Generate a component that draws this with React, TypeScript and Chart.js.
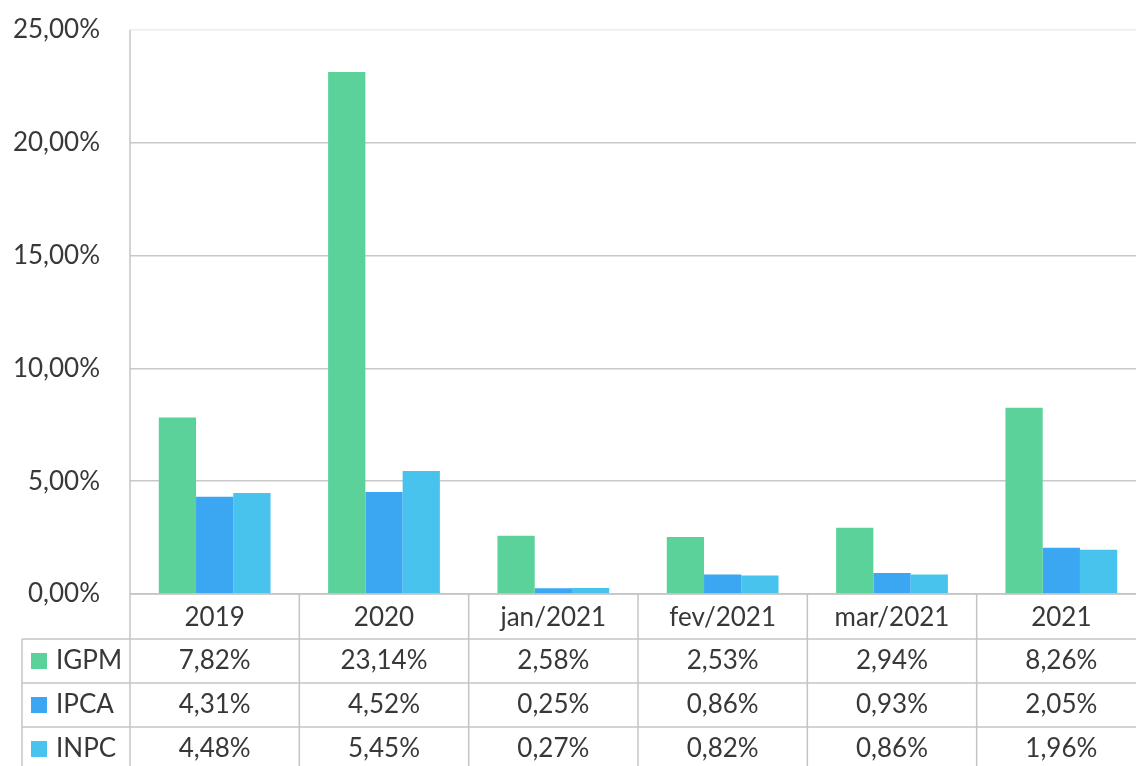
import React, { useEffect, useRef } from 'react';
import { Chart, registerables } from 'chart.js';

Chart.register(...registerables);

const categories = ['2019', '2020', 'jan/2021', 'fev/2021', 'mar/2021', '2021'];
const seriesNames = ['IGPM', 'IPCA', 'INPC'];
const igpm = [7.82, 23.14, 2.58, 2.53, 2.94, 8.26];
const ipca = [4.31, 4.52, 0.25, 0.86, 0.93, 2.05];
const inpc = [4.48, 5.45, 0.27, 0.82, 0.86, 1.96];
const yTicks = [0, 5, 10, 15, 20, 25];

const COLORS = ['#5CD29B', '#3BA7F3', '#47C3EE'];
const LINE = '#c4c4c4';
const TEXT = '#383838';
const FONT = 'Lato, "Open Sans", sans-serif';

const fmt = (v: number) => v.toFixed(2).replace('.', ',') + '%';

const tablePlugin = {
  id: 'dataTable',
  afterDraw(chart: any) {
    const ctx = chart.ctx as CanvasRenderingContext2D;
    const xs = chart.scales.x;
    const area = chart.chartArea;
    const n = categories.length;
    const cw = xs.getPixelForValue(1) - xs.getPixelForValue(0);
    const left = area.left;
    const right = area.right;
    const headerTop = area.bottom;
    const headerH = 45;
    const rowH = 44;
    const rowsTop = headerTop + headerH;
    const bottom = chart.height;
    const legendLeft = 22;
    const series = [igpm, ipca, inpc];

    ctx.save();
    ctx.strokeStyle = LINE;
    ctx.lineWidth = 1.5;
    const line = (x1: number, y1: number, x2: number, y2: number) => {
      ctx.beginPath();
      ctx.moveTo(x1, y1);
      ctx.lineTo(x2, y2);
      ctx.stroke();
    };
    line(left, area.top, left, bottom);
    for (let i = 0; i < n; i++) {
      const bx = xs.getPixelForValue(i) + cw / 2;
      line(bx, headerTop, bx, bottom);
    }
    line(left, headerTop, right, headerTop);
    for (let r = 0; r < 3; r++) {
      const y = rowsTop + r * rowH;
      line(legendLeft, y, right, y);
    }
    line(legendLeft, rowsTop, legendLeft, bottom);

    ctx.fillStyle = TEXT;
    ctx.font = `26px ${FONT}`;
    ctx.textAlign = 'center';
    ctx.textBaseline = 'middle';
    categories.forEach((c, i) => {
      ctx.fillText(c, xs.getPixelForValue(i), headerTop + headerH / 2 + 1);
    });
    series.forEach((arr, r) => {
      const cy = rowsTop + r * rowH + rowH / 2;
      arr.forEach((v, i) => {
        ctx.fillStyle = TEXT;
        ctx.fillText(fmt(v), xs.getPixelForValue(i), cy);
      });
      ctx.fillStyle = COLORS[r];
      ctx.fillRect(31, cy - 8, 16, 16);
      ctx.fillStyle = TEXT;
      ctx.textAlign = 'left';
      ctx.fillText(seriesNames[r], 56, cy);
      ctx.textAlign = 'center';
    });
    ctx.restore();
  },
};

const whiteBg = {
  id: 'whiteBg',
  beforeDraw(chart: any) {
    const ctx = chart.ctx;
    ctx.save();
    ctx.fillStyle = '#ffffff';
    ctx.fillRect(0, 0, chart.width, chart.height);
    ctx.restore();
  },
};

export default function App() {
  const ref = useRef<HTMLCanvasElement>(null);
  useEffect(() => {
    document.body.style.margin = '0';
    const chart = new Chart(ref.current as HTMLCanvasElement, {
      type: 'bar',
      data: {
        labels: categories,
        datasets: [igpm, ipca, inpc].map((d, i) => ({
          label: seriesNames[i],
          data: d,
          backgroundColor: COLORS[i],
          borderWidth: 0,
          categoryPercentage: 0.66,
          barPercentage: 1,
        })),
      },
      options: {
        responsive: false,
        devicePixelRatio: 1,
        animation: false,
        layout: { padding: { top: 30, bottom: 172, left: 0, right: 0 } },
        plugins: { legend: { display: false }, tooltip: { enabled: false } },
        scales: {
          x: { display: false },
          y: {
            min: 0,
            max: 25,
            afterFit: (s: any) => {
              s.width = 130;
              s.paddingTop = 0;
              s.paddingBottom = 0;
            },
            afterBuildTicks: (s: any) => {
              s.ticks = yTicks.map((v) => ({ value: v }));
            },
            border: { display: false },
            grid: {
              drawTicks: false,
              lineWidth: 1.5,
              color: (c: any) => (c.tick && c.tick.value === 25 ? '#ececec' : '#c8c8c8'),
            },
            ticks: {
              padding: 30,
              color: TEXT,
              font: { family: FONT, size: 26 },
              callback: (v: any) => fmt(Number(v)),
            },
          },
        },
      },
      plugins: [whiteBg, tablePlugin],
    });
    return () => chart.destroy();
  }, []);
  return (
    <div style={{ position: 'fixed', left: 0, top: 0, width: 1136, height: 766, overflow: 'hidden', background: '#fff' }}>
      <canvas ref={ref} width={1146} height={766} style={{ display: 'block' }} />
    </div>
  );
}
